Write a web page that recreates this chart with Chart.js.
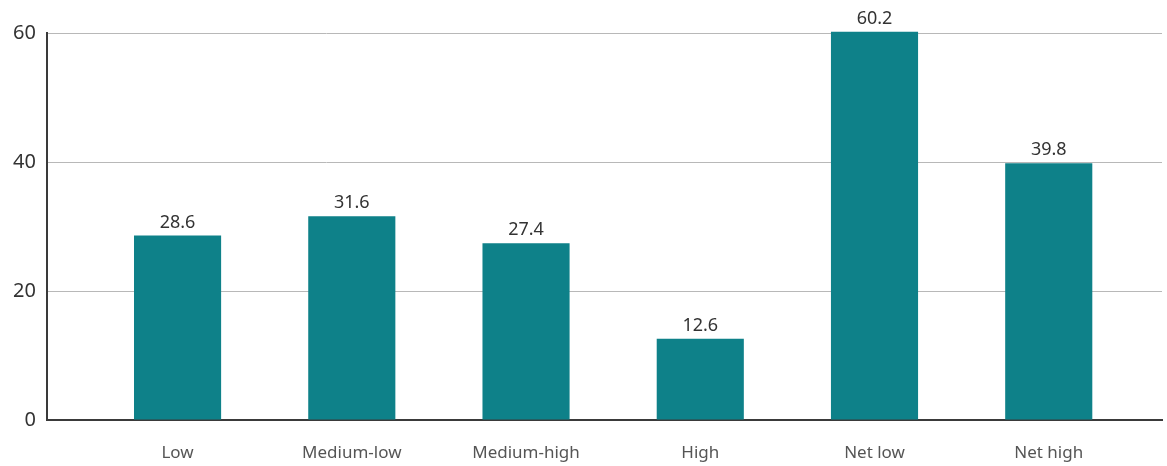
<!DOCTYPE html>
<html>
<head>
<meta charset="utf-8">
<style>
  html, body { margin: 0; padding: 0; background: #fff; }
  #wrap { width: 1167px; height: 466px; }
</style>
<script src="https://cdn.jsdelivr.net/npm/chart.js@4"></script>
</head>
<body>
<div id="wrap"><canvas id="chart"></canvas></div>
<script>
// data
const categories = ['Low', 'Medium-low', 'Medium-high', 'High', 'Net low', 'Net high'];
const values = [28.6, 31.6, 27.4, 12.6, 60.2, 39.8];
const yTicks = [0, 20, 40, 60];

const FONT = '"Noto Sans", "DejaVu Sans", sans-serif';

// value labels above bars
const barLabels = {
    id: 'barLabels',
    afterDatasetsDraw(chart) {
        const ctx = chart.ctx;
        const meta = chart.getDatasetMeta(0);
        ctx.save();
        ctx.font = '18px ' + FONT;
        ctx.fillStyle = '#333';
        ctx.textAlign = 'center';
        ctx.textBaseline = 'bottom';
        meta.data.forEach((bar, i) => {
            ctx.fillText(values[i].toFixed(1), bar.x, bar.y - 4);
        });
        ctx.restore();
    }
};

new Chart(document.getElementById('chart'), {
    type: 'bar',
    data: {
        labels: categories,
        datasets: [{
            data: values,
            backgroundColor: '#0e8189',
            categoryPercentage: 1,
            barPercentage: 0.5,
            clip: false
        }]
    },
    options: {
        responsive: true,
        maintainAspectRatio: false,
        animation: false,
        layout: { padding: { top: 33, right: 5, left: 2, bottom: 0 } },
        plugins: {
            legend: { display: false },
            tooltip: { enabled: false }
        },
        scales: {
            x: {
                offset: false,
                // bars sit inset from the plot edges
                afterBuildTicks(scale) {
                    scale._startValue = -0.75;
                    scale._valueRange = 6.4;
                },
                afterFit(scale) {
                    scale.height = 46;
                },
                grid: { display: false, drawTicks: false },
                border: { display: true, color: '#3a3a3a', width: 2 },
                ticks: {
                    color: '#555',
                    font: { family: FONT, size: 17 },
                    padding: 23,
                    maxRotation: 0
                }
            },
            y: {
                min: 0,
                max: 60,
                afterBuildTicks(scale) {
                    scale.ticks = yTicks.map(v => ({ value: v }));
                },
                grid: { color: '#b8b8b8', lineWidth: 1, drawTicks: false },
                border: { display: true, color: '#3a3a3a', width: 2 },
                ticks: {
                    color: '#333',
                    font: { family: FONT, size: 20 },
                    padding: 11
                }
            }
        }
    },
    plugins: [barLabels]
});
</script>
</body>
</html>
